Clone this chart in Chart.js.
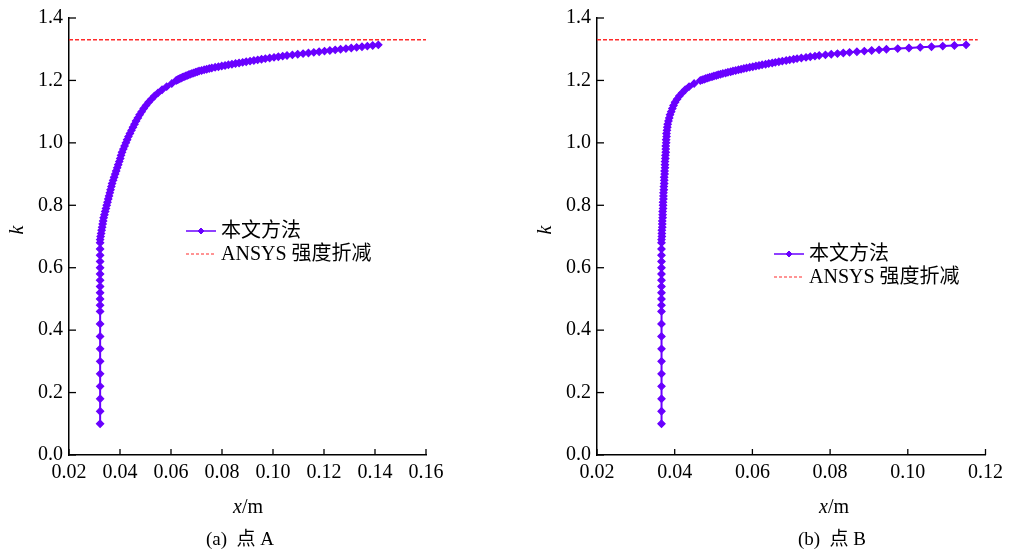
<!DOCTYPE html>
<html>
<head>
<meta charset="utf-8">
<script src="https://cdn.jsdelivr.net/npm/chart.js@4.4.0/dist/chart.umd.min.js"></script>
<style>
  html, body { margin: 0; padding: 0; background: #fff; }
  #chartA { position: absolute; left: 0; top: 0; }
  #chartB { position: absolute; left: 500px; top: 0; }
</style>
</head>
<body>
<canvas id="chartA" width="500" height="553"></canvas>
<canvas id="chartB" width="509" height="553"></canvas>
<script>
// safety factor k (shared by both points)
const kLow = [0.10, 0.14, 0.18, 0.22, 0.26, 0.30, 0.34, 0.38, 0.42, 0.46,
  0.48, 0.50, 0.52, 0.54, 0.56, 0.58, 0.60, 0.62, 0.64, 0.66, 0.68];
const kMid = [0.69, 0.70, 0.71, 0.72, 0.73, 0.74, 0.75, 0.76, 0.77, 0.78, 0.79,
  0.80, 0.81, 0.82, 0.83, 0.84, 0.85, 0.86, 0.87, 0.88, 0.89, 0.90, 0.91, 0.92,
  0.93, 0.94, 0.95, 0.96, 0.97, 0.98, 0.99, 1.00, 1.01, 1.02, 1.03, 1.04, 1.05,
  1.06, 1.07, 1.08, 1.09, 1.10, 1.11, 1.12, 1.13, 1.14, 1.15, 1.16, 1.17, 1.18,
  1.19, 1.20];
const kTop = [1.202, 1.204, 1.206, 1.208, 1.210, 1.212, 1.214, 1.216, 1.218, 1.220,
  1.222, 1.224, 1.226, 1.228, 1.230, 1.232, 1.234, 1.236, 1.238, 1.240,
  1.242, 1.244, 1.246, 1.248, 1.250, 1.252, 1.254, 1.256, 1.258, 1.260,
  1.262, 1.264, 1.266, 1.268, 1.270, 1.272, 1.274, 1.276, 1.278, 1.280,
  1.282, 1.284, 1.286, 1.288, 1.290, 1.292, 1.294, 1.296, 1.298, 1.300,
  1.302, 1.304, 1.306, 1.308, 1.310, 1.312, 1.314];

// displacement x/m at point A
const xALow = [0.0322, 0.0322, 0.0322, 0.0322, 0.0322, 0.0322, 0.0322, 0.0322, 0.0322, 0.0322,
  0.0322, 0.0322, 0.0322, 0.0322, 0.0322, 0.0322, 0.0322, 0.0322, 0.0322, 0.0322, 0.0322];
const xAMid = [0.0322, 0.0324, 0.0326, 0.0328, 0.0330, 0.0332, 0.0334, 0.0336, 0.0339, 0.0342,
  0.0345, 0.0348, 0.0351, 0.0354, 0.0357, 0.0360, 0.0363, 0.0366, 0.0369, 0.0373,
  0.0377, 0.0381, 0.0385, 0.0389, 0.0393, 0.0397, 0.0401, 0.0404, 0.0408, 0.0413,
  0.0418, 0.0423, 0.0428, 0.0433, 0.0439, 0.0445, 0.0451, 0.0457, 0.0463, 0.0470,
  0.0477, 0.0485, 0.0493, 0.0502, 0.0512, 0.0523, 0.0535, 0.0549, 0.0565, 0.0583,
  0.0603, 0.0620];
const xATop = [0.0625, 0.0630, 0.0635, 0.0640, 0.0645, 0.0651, 0.0657, 0.0663, 0.0669, 0.0675,
  0.0682, 0.0689, 0.0696, 0.0703, 0.0710, 0.0720, 0.0730, 0.0740, 0.0750, 0.0760,
  0.0773, 0.0786, 0.0799, 0.0812, 0.0825, 0.0839, 0.0853, 0.0867, 0.0881, 0.0895,
  0.0910, 0.0925, 0.0940, 0.0955, 0.0970, 0.0987, 0.1004, 0.1021, 0.1038, 0.1055,
  0.1076, 0.1097, 0.1118, 0.1139, 0.1160, 0.1181, 0.1202, 0.1223, 0.1244, 0.1265,
  0.1286, 0.1307, 0.1328, 0.1349, 0.1370, 0.1391, 0.1413];

// displacement x/m at point B
const xBLow = [0.0366, 0.0366, 0.0366, 0.0366, 0.0366, 0.0366, 0.0366, 0.0366, 0.0366, 0.0366,
  0.0366, 0.0366, 0.0366, 0.0366, 0.0366, 0.0366, 0.0366, 0.0366, 0.0366, 0.0366, 0.0366];
const xBMid = [0.0366, 0.0367, 0.0367, 0.0367, 0.0368, 0.0368, 0.0368, 0.0369, 0.0369, 0.0369,
  0.0370, 0.0370, 0.0370, 0.0371, 0.0371, 0.0371, 0.0372, 0.0372, 0.0373, 0.0373,
  0.0373, 0.0374, 0.0374, 0.0375, 0.0375, 0.0375, 0.0376, 0.0376, 0.0377, 0.0377,
  0.0377, 0.0378, 0.0378, 0.0379, 0.0379, 0.0380, 0.0381, 0.0382, 0.0384, 0.0386,
  0.0388, 0.0391, 0.0394, 0.0397, 0.0401, 0.0406, 0.0412, 0.0419, 0.0427, 0.0437,
  0.0450, 0.0466];
const xBTop = [0.0471, 0.0476, 0.0480, 0.0485, 0.0490, 0.0496, 0.0501, 0.0507, 0.0512, 0.0518,
  0.0524, 0.0531, 0.0537, 0.0544, 0.0550, 0.0557, 0.0564, 0.0571, 0.0578, 0.0585,
  0.0593, 0.0601, 0.0609, 0.0617, 0.0625, 0.0634, 0.0642, 0.0651, 0.0659, 0.0668,
  0.0677, 0.0687, 0.0696, 0.0706, 0.0715, 0.0726, 0.0738, 0.0749, 0.0761, 0.0772,
  0.0788, 0.0803, 0.0819, 0.0834, 0.0850, 0.0869, 0.0888, 0.0907, 0.0926, 0.0945,
  0.0974, 0.1003, 0.1032, 0.1061, 0.1090, 0.1120, 0.1150];

// ANSYS strength reduction result
const ansysK = 1.33;
const ansysXA = [0.02, 0.16];
const ansysXB = [0.02, 0.118];

const seriesNames = ['本文方法', 'ANSYS 强度折减'];
const captions = ['(a)  点 A', '(b)  点 B'];

const FONT = "'Liberation Serif', 'Times New Roman', 'Noto Sans CJK SC', serif";
Chart.defaults.font.family = FONT;
Chart.defaults.font.size = 20;
Chart.defaults.color = '#000';

const purple = '#6a00ff';
const red = '#ff2a2a';

function points(xs, ks) {
  return ks.map((k, i) => ({ x: xs[i], y: k }));
}

// inward ticks, axis titles, caption and legend
const overlay = {
  id: 'overlay',
  afterDraw(chart, args, o) {
    const { ctx, chartArea: a, scales: { x, y } } = chart;
    ctx.save();
    ctx.strokeStyle = '#000';
    ctx.lineWidth = 1.3;
    x.ticks.forEach(t => {
      const px = x.getPixelForValue(t.value);
      ctx.beginPath(); ctx.moveTo(px, a.bottom); ctx.lineTo(px, a.bottom - 6); ctx.stroke();
    });
    y.ticks.forEach(t => {
      const py = y.getPixelForValue(t.value);
      ctx.beginPath(); ctx.moveTo(a.left, py); ctx.lineTo(a.left + 7, py); ctx.stroke();
    });

    ctx.fillStyle = '#000';
    ctx.textBaseline = 'middle';
    // y title
    ctx.save();
    ctx.translate(o.kX, o.kY);
    ctx.rotate(-Math.PI / 2);
    ctx.textAlign = 'center';
    ctx.font = 'italic 20px ' + FONT;
    ctx.fillText('k', 0, 0);
    ctx.restore();

    // x title: italic x + /m
    ctx.textAlign = 'left';
    ctx.font = 'italic 20px ' + FONT;
    const w1 = ctx.measureText('x').width;
    ctx.font = '20px ' + FONT;
    const w2 = ctx.measureText('/m').width;
    const x0 = o.xmX - (w1 + w2) / 2;
    ctx.font = 'italic 20px ' + FONT;
    ctx.fillText('x', x0, o.xmY);
    ctx.font = '20px ' + FONT;
    ctx.fillText('/m', x0 + w1, o.xmY);

    // caption
    ctx.textAlign = 'center';
    ctx.font = '19px ' + FONT;
    ctx.fillText(o.caption, o.capX, o.capY);

    // legend
    const ds = chart.data.datasets;
    ctx.textAlign = 'left';
    ctx.font = '20px ' + FONT;
    ds.forEach((d, i) => {
      const ly = o.legY + i * 23;
      ctx.save();
      ctx.strokeStyle = d.borderColor;
      ctx.fillStyle = d.borderColor;
      ctx.lineWidth = i === 0 ? 1.5 : 1.2;
      ctx.setLineDash(i === 0 ? [] : [3, 2]);
      ctx.beginPath(); ctx.moveTo(o.legX, ly); ctx.lineTo(o.legX + 30, ly); ctx.stroke();
      if (i === 0) {
        ctx.lineWidth = 1;
        Chart.helpers.drawPoint(ctx, { pointStyle: 'rectRot', radius: 3, borderWidth: 1 },
          o.legX + 15, ly);
      }
      ctx.restore();
      ctx.fillText(d.label, o.legX + 35, ly + 1);
    });
    ctx.restore();
  }
};

function makeChart(id, xs, ansysX, xMax, yWidth, padRight, o) {
  const cfg = {
    type: 'scatter',
    data: {
      datasets: [{
        label: seriesNames[0],
        data: points(xs, kLow.concat(kMid, kTop)),
        showLine: true,
        borderColor: purple,
        backgroundColor: purple,
        borderWidth: 2,
        pointStyle: 'rectRot',
        pointRadius: 3.6,
        pointBorderWidth: 1.2,
        pointBackgroundColor: purple,
        pointBorderColor: purple
      }, {
        label: seriesNames[1],
        data: ansysX.map(v => ({ x: v, y: ansysK })),
        showLine: true,
        borderColor: red,
        borderWidth: 1.5,
        borderDash: [4, 2],
        pointRadius: 0
      }]
    },
    options: {
      responsive: false,
      animation: false,
      layout: { padding: { left: 0, right: padRight, top: 14, bottom: 0 } },
      plugins: {
        legend: { display: false },
        tooltip: { enabled: false },
        overlay: o
      },
      scales: {
        x: {
          type: 'linear',
          min: 0.02,
          max: xMax,
          grid: { display: false, drawTicks: false },
          border: { display: true, color: '#000', width: 1.5 },
          ticks: { stepSize: 0.02, padding: 6, maxRotation: 0, callback: v => v.toFixed(2) },
          afterFit: s => { s.height = 98; }
        },
        y: {
          min: 0,
          max: 1.4,
          grid: { display: false, drawTicks: false },
          border: { display: true, color: '#000', width: 1.5 },
          ticks: { stepSize: 0.2, padding: 6, callback: v => v.toFixed(1) },
          afterFit: s => { s.width = yWidth; }
        }
      }
    },
    plugins: [overlay]
  };
  return new Chart(document.getElementById(id), cfg);
}

const chartA = makeChart('chartA', xALow.concat(xAMid, xATop), ansysXA, 0.16, 69, 74,
  { kX: 18, kY: 230, xmX: 248, xmY: 508, caption: captions[0], capX: 240, capY: 540,
    legX: 186, legY: 231 });
const chartB = makeChart('chartB', xBLow.concat(xBMid, xBTop), ansysXB, 0.12, 97, 18,
  { kX: 46, kY: 230, xmX: 334, xmY: 508, caption: captions[1], capX: 332, capY: 540,
    legX: 274, legY: 254 });
</script>
</body>
</html>
